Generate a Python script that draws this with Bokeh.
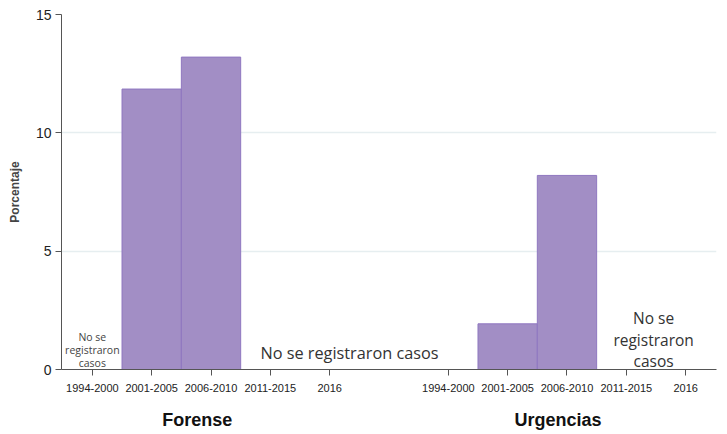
from bokeh.plotting import figure
from bokeh.models import FixedTicker, LinearAxis, Range1d, ColumnDataSource
from bokeh.core.properties import value
from bokeh.embed import file_html
from bokeh.resources import INLINE

periods = ["1994-2000", "2001-2005", "2006-2010", "2011-2015", "2016"]
groups = ["Forense", "Urgencias"]
forense = [0.0, 11.85, 13.2, 0.0, 0.0]
urgencias = [0.0, 1.93, 8.2, 0.0, 0.0]
y_ticks = [0, 5, 10, 15]

# positions: group 0 at 0..4, group 1 at 6..10
pos_f = list(range(len(periods)))
pos_u = [i + len(periods) + 1 for i in range(len(periods))]
xs = pos_f + pos_u
tops = forense + urgencias
src = ColumnDataSource(dict(x=[x for x, t in zip(xs, tops) if t > 0],
                            top=[t for t in tops if t > 0]))

p = figure(width=719, height=432, output_backend="svg", toolbar_location=None,
           x_range=Range1d(-0.52, xs[-1] + 0.52), y_range=Range1d(0, 15),
           min_border_left=61, min_border_right=3, min_border_top=14, min_border_bottom=63)
p.outline_line_color = None
p.background_fill_color = "white"
p.border_fill_color = "white"

p.vbar(x="x", top="top", width=1.0, source=src, fill_color="#a28ec5",
       line_color="#8f77c0", line_width=1)

# texts "No se registraron casos"
tfont = value("Open Sans")
p.text(x=[pos_f[0]], y=[-0.02], text=["No se\nregistraron\ncasos"], text_font=tfont,
       text_font_size="10.5px", text_align="center", text_baseline="bottom",
       text_color="#444444", text_line_height=0.92)
p.text(x=[pos_f[4] + 0.37], y=[0.22], text=["No se  registraron casos"],
       text_font=tfont, text_font_size="16.3px", text_align="center",
       text_baseline="bottom", text_color="#333333")
p.text(x=[pos_u[3] + 0.46], y=[-0.12], text=["No se\nregistraron\ncasos"], text_font=tfont,
       text_font_size="15.5px", text_align="center", text_baseline="bottom",
       text_color="#333333", text_line_height=0.98)

# axes
p.xaxis.ticker = FixedTicker(ticks=xs)
p.xaxis.major_label_overrides = {x: lab for x, lab in zip(xs, periods + periods)}
p.xaxis.major_label_text_font = "Liberation Sans"
p.xaxis.major_label_text_font_size = "11px"
p.xaxis.major_label_text_color = "#222222"
p.xaxis.major_tick_out = 6
p.xaxis.major_tick_in = 0
p.xaxis.minor_tick_line_color = None
p.xaxis.axis_line_color = "#555555"
p.xaxis.major_tick_line_color = "#555555"
p.xaxis.major_label_standoff = 8

gax = LinearAxis(ticker=FixedTicker(ticks=[1.77, 7.85]),
                 major_label_overrides={1.77: groups[0], 7.85: groups[1]})
gax.axis_line_color = None
gax.major_tick_line_color = None
gax.major_tick_out = 0
gax.minor_tick_line_color = None
gax.major_label_text_font = "Liberation Sans"
gax.major_label_text_font_style = "bold"
gax.major_label_text_font_size = "18px"
gax.major_label_text_color = "#111111"
gax.major_label_standoff = 15
p.add_layout(gax, "below")

p.yaxis.ticker = FixedTicker(ticks=y_ticks)
p.yaxis.axis_label = "Porcentaje"
p.yaxis.axis_label_text_font = "Liberation Sans"
p.yaxis.axis_label_text_font_style = "bold"
p.yaxis.axis_label_text_font_size = "12px"
p.yaxis.axis_label_standoff = 11
p.yaxis.major_label_text_font = "Liberation Sans"
p.yaxis.major_label_text_font_size = "14px"
p.yaxis.major_label_text_color = "#222222"
p.yaxis.major_label_standoff = 4
p.yaxis.major_tick_out = 6
p.yaxis.major_tick_in = 0
p.yaxis.minor_tick_line_color = None
p.yaxis.axis_line_color = "#555555"
p.yaxis.major_tick_line_color = "#555555"

p.xgrid.grid_line_color = None
p.ygrid.grid_line_color = "#e6eef0"
p.ygrid.grid_line_width = 1.5

open("out.html", "w").write(file_html(p, INLINE))
